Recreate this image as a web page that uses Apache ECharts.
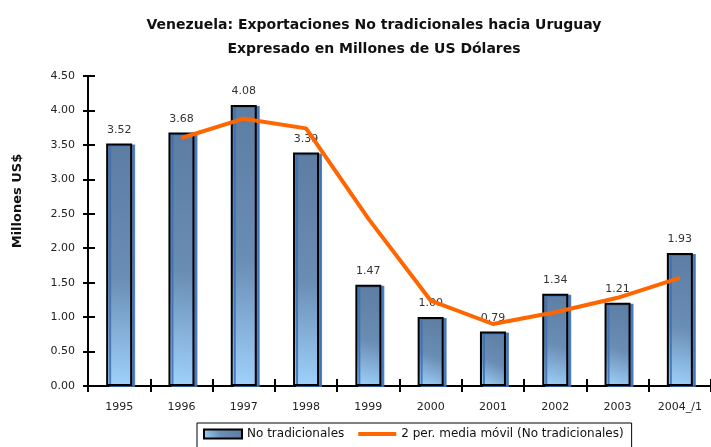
<!DOCTYPE html>
<html>
<head>
<meta charset="utf-8">
<script src="https://cdn.jsdelivr.net/npm/echarts@6/dist/echarts.min.js"></script>
<style>
  html, body { margin: 0; padding: 0; background: #fff; }
  #chart { width: 711px; height: 447px; }
</style>
</head>
<body>
<div id="chart"></div>
<script>
/** Exportaciones no tradicionales hacia Uruguay */
var years = ['1995', '1996', '1997', '1998', '1999', '2000', '2001', '2002', '2003', '2004_/1'];
var noTradicionales = [3.52, 3.68, 4.08, 3.39, 1.47, 1.00, 0.79, 1.34, 1.21, 1.93];
var mediaMovil = [null, 3.60, 3.88, 3.74, 2.43, 1.24, 0.90, 1.07, 1.28, 1.57];
var yMin = 0, yMax = 4.5, yStep = 0.5;

var txtFont = 'DejaVu Sans';
var chart = echarts.init(document.getElementById('chart'));

var barFill = new echarts.graphic.LinearGradient(1, 0, 0, 1, [
  { offset: 0, color: '#5d7da2' },
  { offset: 0.55, color: '#6a8db4' },
  { offset: 1, color: '#9fd2fc' }
]);

var option = {
  backgroundColor: '#fff',
  animation: false,
  title: {
    text: 'Venezuela: Exportaciones No tradicionales hacia Uruguay\nExpresado en Millones de US Dólares',
    left: 369,
    top: 8,
    textAlign: 'center',
    textStyle: {
      fontFamily: txtFont,
      fontSize: 14,
      fontWeight: 'bold',
      color: '#111',
      lineHeight: 24
    }
  },
  graphic: [{
    type: 'text',
    x: 18,
    y: 201,
    rotation: Math.PI / 2,
    style: {
      text: 'Millones US$',
      font: 'bold 13px "DejaVu Sans"',
      fill: '#111',
      align: 'center',
      verticalAlign: 'middle'
    }
  }],
  legend: {
    left: 197,
    top: 423,
    borderColor: '#000',
    borderWidth: 1,
    padding: [5, 8, 8, 6],
    itemGap: 12,
    itemWidth: 38,
    itemHeight: 9,
    textStyle: { fontFamily: txtFont, fontSize: 12, color: '#111' },
    data: [
      { name: 'No tradicionales', icon: 'rect' },
      {
        name: '2 per. media móvil (No tradicionales)',
        itemStyle: { opacity: 0 },
        lineStyle: { width: 4, color: '#ff6600' }
      }
    ]
  },
  grid: {
    left: 88,
    right: -9,
    top: 76,
    bottom: 61
  },
  xAxis: [{
    type: 'category',
    data: years,
    axisLine: { lineStyle: { color: '#000', width: 2 } },
    axisTick: { show: true, length: 6, lineStyle: { color: '#000', width: 2 } },
    axisLabel: { fontFamily: txtFont, fontSize: 11, color: '#222', margin: 16, interval: 0 }
  }, {
    type: 'category',
    data: years,
    position: 'bottom',
    axisLine: { show: false },
    axisTick: { show: true, inside: true, length: 7, lineStyle: { color: '#000', width: 2 } },
    axisLabel: { show: false }
  }],
  yAxis: [{
    type: 'value',
    min: yMin,
    max: yMax,
    interval: yStep,
    splitLine: { show: false },
    axisLine: { show: true, lineStyle: { color: '#000', width: 2 } },
    axisTick: { show: true, length: 5, lineStyle: { color: '#000', width: 2 } },
    axisLabel: {
      fontFamily: txtFont, fontSize: 11, color: '#222', margin: 13,
      formatter: function (v) { return v.toFixed(2); }
    }
  }, {
    type: 'value',
    position: 'left',
    min: yMin,
    max: yMax,
    interval: yStep,
    splitLine: { show: false },
    axisLine: { show: false },
    axisTick: { show: true, inside: true, length: 7, lineStyle: { color: '#000', width: 2 } },
    axisLabel: { show: false }
  }],
  series: [{
    name: 'No tradicionales',
    type: 'bar',
    data: noTradicionales,
    barWidth: 26,
    itemStyle: {
      color: barFill,
      borderColor: '#000',
      borderWidth: 2,
      shadowColor: 'rgba(60,110,180,0.85)',
      shadowOffsetX: 3,
      shadowOffsetY: 1,
      shadowBlur: 0
    },
    label: {
      show: true,
      position: 'top',
      distance: 8,
      fontFamily: txtFont,
      fontSize: 11,
      color: '#333',
      formatter: function (p) { return p.value.toFixed(2); }
    }
  }, {
    name: '2 per. media móvil (No tradicionales)',
    type: 'line',
    data: mediaMovil,
    symbol: 'none',
    z: 5,
    lineStyle: { color: '#ff6600', width: 4 },
    itemStyle: { color: '#ff6600' }
  }]
};

chart.setOption(option);
</script>
</body>
</html>
